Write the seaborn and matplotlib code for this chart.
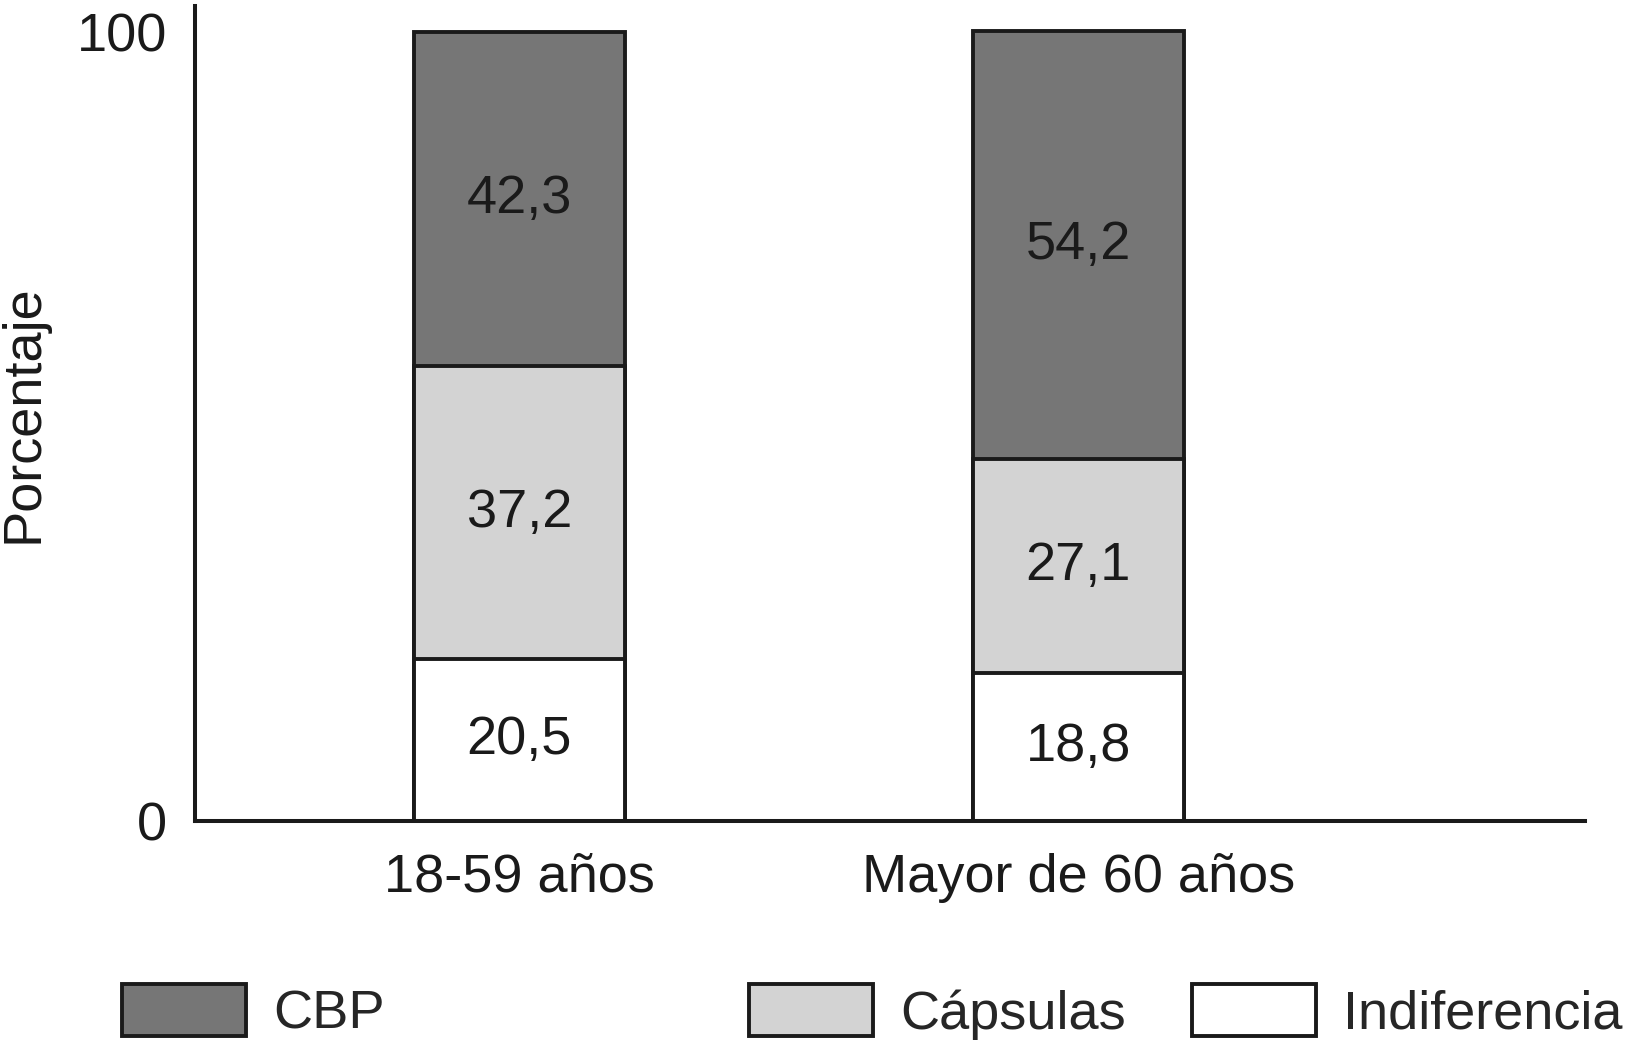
import matplotlib
matplotlib.use('Agg')
import matplotlib.pyplot as plt
from matplotlib.patches import Patch
import seaborn as sns
import pandas as pd

grupos = ['18-59 años', 'Mayor de 60 años']
indiferencia = [20.5, 18.8]
capsulas = [37.2, 27.1]
cbp = [42.3, 54.2]
series = ['CBP', 'Cápsulas', 'Indiferencia']
colores = {'CBP': '#767676', 'Cápsulas': '#d3d3d3', 'Indiferencia': '#ffffff'}
borde = '#1a1a1a'

sns.set_style('white')
plt.rcParams['font.family'] = ['Liberation Sans', 'DejaVu Sans']
plt.rcParams['font.size'] = 39

df = pd.DataFrame({'grupo': grupos, 'Indiferencia': indiferencia,
                   'Cápsulas': capsulas, 'CBP': cbp})
df['c1'] = df['Indiferencia']
df['c2'] = df['c1'] + df['Cápsulas']
df['c3'] = df['c2'] + df['CBP']

fig = plt.figure(figsize=(16.38, 10.55), dpi=100)
ax = fig.add_axes([0.119, 0.2218, 0.8486, 0.7725])

# stacked: draw the tallest first
for col, serie in [('c3', 'CBP'), ('c2', 'Cápsulas'), ('c1', 'Indiferencia')]:
    sns.barplot(data=df, x='grupo', y=col, color=colores[serie], width=0.377,
                edgecolor=borde, linewidth=2.8, saturation=1, ax=ax)

# value labels in the middle of each segment
for i in range(len(grupos)):
    base = 0
    for serie in ['Indiferencia', 'Cápsulas', 'CBP']:
        v = df.loc[i, serie]
        ax.text(i, base + v / 2, f'{v:.1f}'.replace('.', ','),
                ha='center', va='center', fontsize=39, color='#1a1a1a')
        base += v

ax.set_xlim(-0.58, 1.906)
ax.set_ylim(0, 103.3)
ax.set_yticks([0, 100])
ax.set_yticklabels(['0', '100'])
ax.tick_params(axis='y', length=0, pad=20, labelsize=39, labelcolor='#1a1a1a')
ax.tick_params(axis='x', length=0, pad=23, labelsize=39, labelcolor='#1a1a1a')
ax.set_xlabel('')
ax.set_ylabel('Porcentaje', fontsize=39, labelpad=20, color='#1a1a1a')
sns.despine(ax=ax)
for s in ['left', 'bottom']:
    ax.spines[s].set_color('#1a1a1a')
    ax.spines[s].set_linewidth(2.9)

# legend entries placed separately like the original
posiciones = {'CBP': 0.0745, 'Cápsulas': 0.4573, 'Indiferencia': 0.7275}
for serie in series:
    h = Patch(facecolor=colores[serie], edgecolor=borde, linewidth=2.8)
    fig.legend([h], [serie], loc='center left', bbox_to_anchor=(posiciones[serie], 0.0408),
               frameon=False, fontsize=39, handlelength=2.29, handleheight=1.1,
               handletextpad=0.5, borderpad=0, borderaxespad=0)

fig.savefig('out.png', dpi=100)
